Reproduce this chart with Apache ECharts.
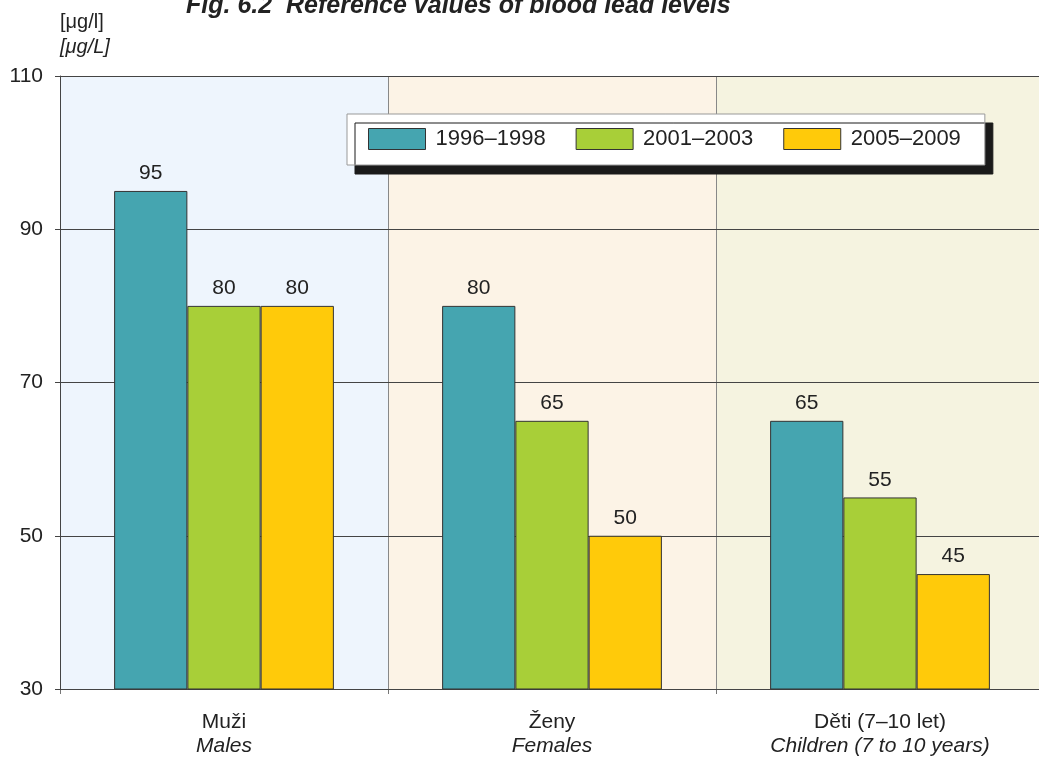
<!DOCTYPE html>
<html>
<head>
<meta charset="utf-8">
<script src="https://cdn.jsdelivr.net/npm/echarts@6/dist/echarts.min.js"></script>
<style>
  html, body { margin: 0; padding: 0; background: #fff; overflow: hidden; }
  #chart { width: 1039px; height: 761px; }
</style>
</head>
<body>
<div id="chart"></div>
<script>
// Blood lead reference values by population group and period
const categoriesCz = ['Muži', 'Ženy', 'Děti (7–10 let)'];
const categoriesEn = ['Males', 'Females', 'Children (7 to 10 years)'];
const periods = ['1996–1998', '2001–2003', '2005–2009'];
const values1996 = [95, 80, 65];
const values2001 = [80, 65, 55];
const values2005 = [80, 50, 45];
const yTicks = [30, 50, 70, 90, 110];

const seriesColors = ['#45a5b0', '#a8cf38', '#ffca0a'];
const panelColors = ['#eef5fd', '#fcf3e6', '#f5f3e0'];
const FONT = '"Liberation Sans", Arial, sans-serif';

const chart = echarts.init(document.getElementById('chart'), null, { renderer: 'canvas' });

const seriesData = [values1996, values2001, values2005];

chart.setOption({
  animation: false,
  textStyle: { fontFamily: FONT },
  title: {
    text: 'Fig. 6.2  Reference values of blood lead levels',
    left: 181,
    top: -11,
    textStyle: { fontSize: 25, fontWeight: 'bold', fontStyle: 'italic', color: '#222', fontFamily: FONT }
  },
  graphic: [
    { type: 'text', left: 60, top: 12, style: { text: '[μg/l]', fontSize: 20, fill: '#222', fontFamily: FONT } },
    { type: 'text', left: 60, top: 37, style: { text: '[μg/L]', fontSize: 20, fontStyle: 'italic', fill: '#222', fontFamily: FONT } }
  ],
  legend: {
    data: periods,
    left: 347,
    top: 114,
    padding: [14, 24, 15, 21],
    itemWidth: 57,
    itemHeight: 21,
    itemGap: 30,
    backgroundColor: '#fff',
    borderColor: '#999',
    borderWidth: 1,
    shadowColor: '#1a1a1a',
    shadowBlur: 0,
    shadowOffsetX: 8,
    shadowOffsetY: 9,
    icon: 'rect',
    itemStyle: { borderColor: '#333', borderWidth: 1 },
    textStyle: { fontSize: 22, color: '#222', fontFamily: FONT, padding: [0, 0, 0, 5] }
  },
  grid: { left: 60, width: 984, top: 76, bottom: 72, containLabel: false, outerBoundsMode: 'none' },
  xAxis: {
    type: 'category',
    data: categoriesCz,
    z: 0,
    axisLine: { show: true, lineStyle: { color: '#777', width: 1 } },
    axisTick: { show: true, length: 5, lineStyle: { color: '#777' } },
    splitLine: { show: true, lineStyle: { color: '#888', width: 1 } },
    splitArea: { show: true, areaStyle: { color: panelColors } },
    axisLabel: {
      margin: 21,
      formatter: function (v, i) {
        return '{a|' + v + '}\n{b|' + categoriesEn[i] + '}';
      },
      rich: {
        a: { fontSize: 21, color: '#222', fontFamily: FONT, lineHeight: 24 },
        b: { fontSize: 21, color: '#222', fontStyle: 'italic', fontFamily: FONT, lineHeight: 24 }
      }
    }
  },
  yAxis: {
    type: 'value',
    min: 30,
    max: 110,
    interval: 20,
    z: 1,
    axisLine: { show: true, lineStyle: { color: '#444', width: 1 } },
    axisTick: { show: true, length: 5, lineStyle: { color: '#444' } },
    splitLine: { show: true, lineStyle: { color: '#444', width: 1 } },
    axisLabel: { fontSize: 21, color: '#222', margin: 17, fontFamily: FONT }
  },
  series: periods.map(function (name, k) {
    return {
      name: name,
      type: 'bar',
      data: seriesData[k],
      barGap: '0%',
      barCategoryGap: '33%',
      itemStyle: { color: seriesColors[k], borderColor: '#333', borderWidth: 1 },
      label: { show: true, position: 'top', distance: 7, fontSize: 21, color: '#222', fontFamily: FONT }
    };
  })
});
</script>
</body>
</html>
